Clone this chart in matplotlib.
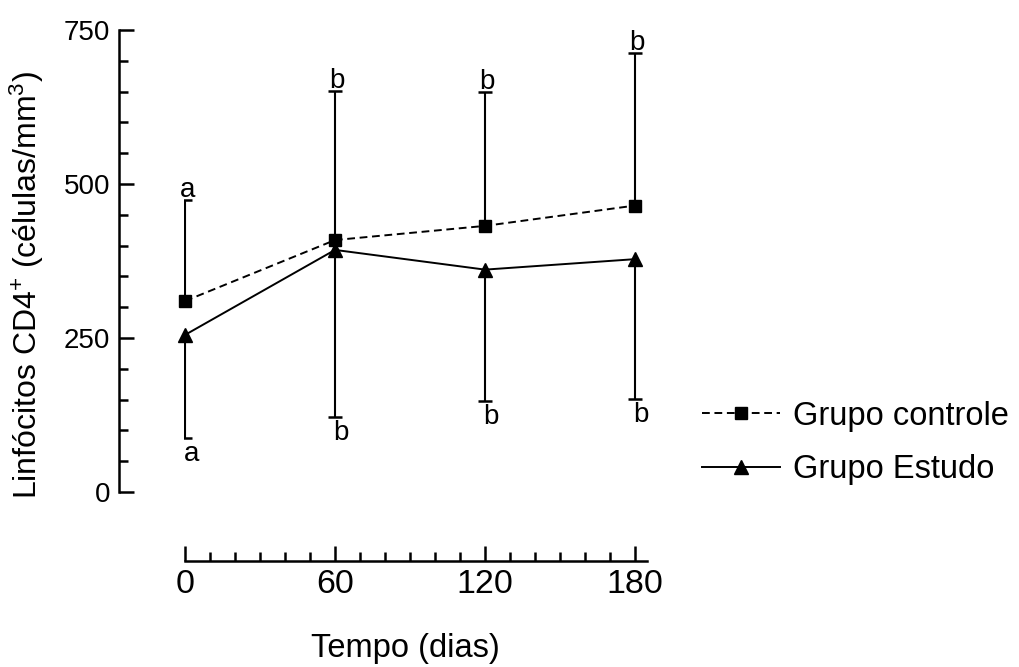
import matplotlib
matplotlib.use("Agg")
import numpy as np
import matplotlib.pyplot as plt
from matplotlib.ticker import FixedLocator, MultipleLocator

plt.rcParams["font.family"] = ["Liberation Sans", "DejaVu Sans"]
plt.rcParams["mathtext.fontset"] = "custom"
plt.rcParams["mathtext.rm"] = "Liberation Sans"
plt.rcParams["mathtext.it"] = "Liberation Sans:italic"
plt.rcParams["mathtext.bf"] = "Liberation Sans:bold"

# Contagem de linfócitos CD4+ ao longo do acompanhamento
dias = [0, 60, 120, 180]
controle_media = [310, 409, 432, 465]
controle_dp = [164, 242, 218, 248]
estudo_media = [255, 393, 361, 378]
estudo_dp = [167, 271, 213, 227]
letras_controle = ["a", "b", "b", "b"]
letras_estudo = ["a", "b", "b", "b"]
x_ticks = [0, 60, 120, 180]
y_ticks = [0, 250, 500, 750]

W, H = 1020, 667
fig = plt.figure(figsize=(W / 100, H / 100), dpi=100)
ax = fig.add_axes([184 / W, (H - 492) / H, 463.5 / W, 462 / H])
ax.set_xlim(-0.4, 185)
ax.set_ylim(0, 750)

zeros = [0] * len(dias)


def barras(media, err, cor="black"):
    eb = ax.errorbar(dias, media, yerr=err, fmt="none", ecolor=cor,
                     elinewidth=1.5, capsize=4.7, capthick=1.8, zorder=2)
    # esconde o traço de cap que fica sobre o próprio ponto
    for cl in eb.lines[1]:
        if np.allclose(cl.get_ydata(), media):
            cl.set_visible(False)
    return eb


barras(controle_media, [zeros, controle_dp])
barras(estudo_media, [estudo_dp, zeros])

ax.plot(dias, controle_media, color="black", lw=1.4, ls=(0, (4, 2.4)),
        marker="s", ms=8, label="Grupo controle", zorder=3, clip_on=False)
ax.plot(dias, estudo_media, color="black", lw=1.4, ls="-",
        marker="^", ms=9.5, label="Grupo Estudo", zorder=3, clip_on=False)

# letras de significância nas extremidades das barras
for x, m, sd, l in zip(dias, controle_media, controle_dp, letras_controle):
    ax.annotate(l, xy=(x, m + sd), xytext=(1.5, 2), textcoords="offset points",
                ha="center", va="baseline", fontsize=20)
for x, m, sd, l in zip(dias, estudo_media, estudo_dp, letras_estudo):
    ax.annotate(l, xy=(x, m - sd), xytext=(4.5, -2.5), textcoords="offset points",
                ha="center", va="top", fontsize=20)

for s in ("top", "right"):
    ax.spines[s].set_visible(False)
ax.spines["left"].set_position(("outward", 46.8))
ax.spines["bottom"].set_position(("outward", 49.7))
ax.spines["bottom"].set_bounds(0, 185)
ax.spines["left"].set_bounds(0, 750)
for s in ("left", "bottom"):
    ax.spines[s].set_linewidth(1.8)

ax.xaxis.set_major_locator(FixedLocator(x_ticks))
ax.xaxis.set_minor_locator(MultipleLocator(10))
ax.yaxis.set_major_locator(FixedLocator(y_ticks))
ax.yaxis.set_minor_locator(MultipleLocator(50))
ax.tick_params(which="major", direction="in", length=10.8, width=1.8)
ax.tick_params(which="minor", direction="in", length=6.5, width=1.8)
ax.tick_params(axis="x", labelsize=24.5, pad=5.8)
ax.tick_params(axis="y", labelsize=20, pad=6.5)

fig.text(405 / W, (H - 657) / H, "Tempo (dias)", ha="center", va="baseline",
         fontsize=23.5)
fig.text(27 / W, (H - 285) / H, r"Linfócitos CD4$^{+}$ (células/mm$^{3}$)",
         rotation=90, ha="center", va="center", fontsize=23)

ax.legend(loc="center left", bbox_to_anchor=(702 / W, (H - 443) / H),
          bbox_transform=fig.transFigure, frameon=False, fontsize=23.5,
          handlelength=2.4, handletextpad=0.4, borderpad=0,
          borderaxespad=0, labelspacing=0.68, numpoints=1)

fig.savefig("out.png", dpi=100)
